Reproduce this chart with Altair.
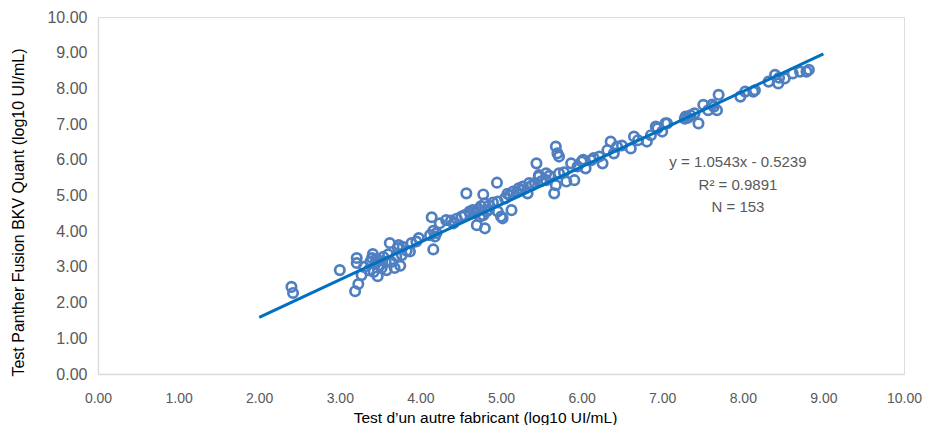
import altair as alt
import pandas as pd

x_vals = [
    2.40, 2.42, 3.00, 3.21, 3.21, 3.19, 3.23, 3.27, 3.40, 3.41, 3.36, 3.44, 3.47, 3.52,
    3.57, 3.62, 3.64, 3.68, 3.72, 3.75, 3.78, 3.83, 3.89, 3.98, 3.54, 3.48, 3.58, 3.42,
    3.30, 3.50, 3.38, 3.60, 3.70, 3.73, 3.87, 3.77, 3.95,
    4.95, 4.57, 4.78, 4.14, 4.16, 4.12, 4.16, 4.24, 4.32, 4.41, 4.51, 4.61, 4.70, 4.80,
    4.74, 4.80, 4.82, 4.65, 4.96, 5.00, 5.02, 5.13, 4.96, 5.11, 5.15, 5.27, 5.33, 5.47,
    5.66, 5.68, 5.56, 4.18, 4.20, 4.55, 4.62, 4.68, 4.72, 4.75, 4.78, 4.85, 5.05, 5.08,
    5.20, 5.22, 5.38, 5.42, 5.50, 5.60, 4.45, 4.38, 4.90,
    5.68, 5.70, 5.72, 5.44, 5.81, 5.91, 5.87, 5.95, 6.05, 6.12, 6.22, 6.26, 6.32, 6.36,
    6.40, 6.44, 6.61, 6.65, 6.81, 6.86, 6.94, 7.00, 7.06, 5.47, 5.56, 5.72, 5.78, 6.00,
    6.15, 6.50, 6.70, 6.92, 7.04,
    7.29, 7.35, 7.45, 7.51, 7.57, 7.64, 7.68, 7.70, 7.97, 8.03, 8.13, 8.32, 8.40, 8.44,
    8.52, 8.62, 8.71, 8.79, 7.32, 7.40, 7.62, 8.45, 8.15, 8.82,
    4.70, 5.25, 5.35, 3.45, 4.85, 6.02, 7.28,
]
y_vals = [
    2.44, 2.27, 2.91, 3.25, 3.11, 2.32, 2.52, 2.77, 3.25, 3.36, 2.91, 3.08, 2.74, 2.97,
    3.14, 3.67, 3.14, 2.97, 3.53, 3.03, 3.56, 3.45, 3.67, 3.81, 3.28, 3.19, 2.91, 2.86,
    3.00, 3.05, 3.15, 3.35, 3.30, 3.61, 3.43, 3.33, 3.71,
    5.36, 5.06, 5.03, 4.39, 4.01, 3.89, 3.49, 4.22, 4.31, 4.22, 4.41, 4.55, 4.17, 4.08,
    4.41, 4.78, 4.55, 4.59, 4.55, 4.41, 4.36, 4.59, 4.83, 5.01, 5.11, 5.25, 5.06, 5.53,
    5.06, 5.29, 5.43, 3.85, 3.95, 4.45, 4.48, 4.50, 4.62, 4.70, 4.45, 4.72, 4.92, 5.05,
    5.10, 5.20, 5.28, 5.35, 5.40, 5.55, 4.35, 4.30, 4.80,
    6.37, 6.18, 6.09, 5.90, 5.39, 5.43, 5.90, 5.81, 5.76, 5.99, 6.09, 5.90, 6.27, 6.51,
    6.18, 6.37, 6.32, 6.65, 6.51, 6.69, 6.88, 6.79, 7.02, 5.57, 5.62, 5.62, 5.65, 5.95,
    6.05, 6.40, 6.55, 6.93, 7.02,
    7.21, 7.25, 7.02, 7.54, 7.39, 7.49, 7.39, 7.82, 7.77, 7.91, 7.91, 8.19, 8.38, 8.14,
    8.28, 8.42, 8.47, 8.47, 7.18, 7.30, 7.55, 8.30, 7.95, 8.52,
    4.55, 5.15, 5.35, 3.22, 4.60, 6.00, 7.15,
]

slope = 1.0543
intercept = -0.5239
trend_x = [2.0, 9.0]

annot_lines = ["y = 1.0543x - 0.5239", "R² = 0.9891", "N = 153"]
annot_x = [7.94, 7.94, 7.94]
annot_y = [5.94, 5.29, 4.68]

tick_values = [0, 1, 2, 3, 4, 5, 6, 7, 8, 9, 10]

pts = pd.DataFrame({"x": x_vals, "y": y_vals})
trend = pd.DataFrame({"x": trend_x, "y": [slope * v + intercept for v in trend_x]})
annot = pd.DataFrame({"x": annot_x, "y": annot_y, "t": annot_lines})

FONT = "Liberation Sans"

xscale = alt.Scale(domain=[0, 10], nice=False, zero=False)
yscale = alt.Scale(domain=[0, 10], nice=False, zero=False)

xaxis = alt.Axis(
    title="Test d’un autre fabricant (log10 UI/mL)",
    values=tick_values, tickCount=11, format=".2f", grid=False, ticks=False,
    labelOverlap=False, labelFlush=False,
    domainColor="#d9d9d9", domainWidth=1.3, labelColor="#595959", labelFontSize=14,
    labelFont=FONT, labelPadding=17, titleFont=FONT, titleFontSize=15.5,
    titleFontWeight="normal", titleColor="#000000",
    titleX=387, titleY=43, titleAlign="center", titleBaseline="middle",
)
yaxis = alt.Axis(
    title="Test Panther Fusion BKV Quant (log10 UI/mL)",
    values=tick_values, tickCount=11, format=".2f", grid=False, ticks=False,
    labelOverlap=False, labelFlush=False,
    domainColor="#d9d9d9", domainWidth=1.3, labelColor="#595959", labelFontSize=16,
    labelFont=FONT, labelPadding=11, titleFont=FONT, titleFontSize=16,
    titleFontWeight="normal", titleColor="#000000",
    titleX=-80, titleY=195, titleAlign="center", titleBaseline="middle", titleAngle=270,
)

X = alt.X("x:Q", scale=xscale, axis=xaxis)
Y = alt.Y("y:Q", scale=yscale, axis=yaxis)

points = alt.Chart(pts).mark_point(
    shape="circle", filled=False, size=88, strokeWidth=2.7, color="#4f7fc0", opacity=1
).encode(x=X, y=Y)

line = alt.Chart(trend).mark_line(color="#0070C0", strokeWidth=3).encode(x=X, y=Y)

text = alt.Chart(annot).mark_text(
    font=FONT, fontSize=15, color="#595959", align="center", baseline="middle"
).encode(x=X, y=Y, text="t:N")

chart = alt.layer(points, line, text).properties(
    width=806, height=357,
    autosize=alt.AutoSizeParams(type="none"),
    padding={"left": 90, "top": 9, "right": 18, "bottom": 51},
).configure_view(stroke=None).configure(background="white")

chart.save("out.html", embed_options={"renderer": "svg", "actions": False})
